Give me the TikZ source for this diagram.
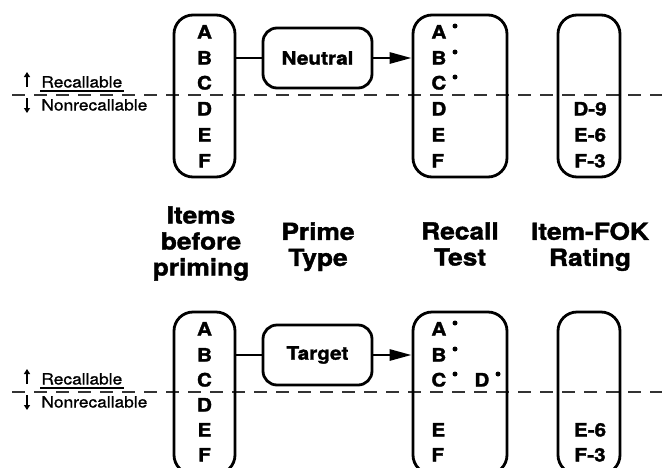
\documentclass[tikz,border=0pt]{standalone}
\usepackage{fontspec}
\setmainfont{TeX Gyre Heros}[FakeStretch=1.12, BoldFeatures={FakeBold=1.6}]
\newfontfamily\smallfont{TeX Gyre Heros}[FakeStretch=1.12, FakeBold=1.0]
\usetikzlibrary{arrows.meta}
\begin{document}
\begin{tikzpicture}[x=1pt,y=-1pt, line width=2.8pt,
 box/.style={draw, rounded corners=19pt, inner sep=0pt, minimum height=162pt},
 lett/.style={font=\fontsize{18.5}{18.5}\selectfont\bfseries, inner sep=0pt, text height=13pt, text depth=0pt},
 primebox/.style={draw, rounded corners=14pt, minimum width=109pt, minimum height=60pt, inner sep=0pt, font=\fontsize{18.5}{18.5}\selectfont\bfseries},
 lab/.style={font=\fontsize{23.5}{26}\selectfont\bfseries, align=center, inner sep=0pt, anchor=north},
 rdot/.style={circle, fill, inner sep=0pt, minimum size=5pt},
 dline/.style={dash pattern=on 13pt off 9pt, line width=2.4pt, draw=black!80},
 small/.style={font=\fontsize{15.5}{15.5}\smallfont, inner sep=0pt, anchor=west, text height=11pt, text depth=0pt},
 conn/.style={line width=2.8pt},
 arr/.style={line width=2.8pt, -{Triangle[length=22pt,width=11pt]}},
 sarr/.style={line width=1.6pt, -{Triangle[length=5pt,width=6pt]}}]
\useasboundingbox (0,0) rectangle (662,467);
\clip (0,0) rectangle (662,467);

% ---------- top panel ----------
\coordinate (dlA) at (12,95);
\coordinate (drA) at (662,95);
\draw[dline] (dlA) -- (drA);

\node[small] (recA) at (40,82) {Recallable};
\draw[line width=1.3pt] ([yshift=-2pt]recA.south west) -- ([yshift=-2pt]recA.south east);
\node[small] (nonA) at (40,105) {Nonrecallable};
\coordinate (uaA1) at (27,87); \coordinate (uaA2) at (27,72);
\coordinate (daA1) at (27,98); \coordinate (daA2) at (27,113);
\draw[sarr] (uaA1) -- (uaA2);
\draw[sarr] (daA1) -- (daA2);

\node[box, minimum width=61pt] (itemsA) at (204.5,96) {};
\node[lett] (iAa) at (204.5,32) {A};
\node[lett] (iAb) at (204.5,58) {B};
\node[lett] (iAc) at (204.5,83) {C};
\node[lett] (iAd) at (204.5,109) {D};
\node[lett] (iAe) at (204.5,135) {E};
\node[lett] (iAf) at (204.5,161) {F};

\node[primebox] (neutral) at (317.5,58) {Neutral};

\node[box, minimum width=94pt] (recallA) at (460,96) {};
\node[lett, anchor=west] (rAa) at (430,32) {A};
\node[lett, anchor=west] (rAb) at (430,58) {B};
\node[lett, anchor=west] (rAc) at (430,83) {C};
\node[lett, anchor=west] (rAd) at (430,109) {D};
\node[lett, anchor=west] (rAe) at (430,135) {E};
\node[lett, anchor=west] (rAf) at (430,161) {F};
\node[rdot] (dAa) at (455,26) {};
\node[rdot] (dAb) at (455,52) {};
\node[rdot] (dAc) at (455,77) {};

\node[box, minimum width=62pt] (fokA) at (589,96) {};
\node[lett] (fAd) at (590,109) {D-9};
\node[lett] (fAe) at (590,135) {E-6};
\node[lett] (fAf) at (590,161) {F-3};

\draw[conn] (itemsA.east |- neutral.west) -- (neutral.west);
\draw[arr] (neutral.east) -- (neutral.east -| recallA.west);

% ---------- labels ----------
\node[lab] (l1) at (201,205) {Items\\before\\priming};
\node[lab] (l2) at (318,221) {Prime\\Type};
\node[lab] (l3) at (460,221) {Recall\\Test};
\node[lab] (l4) at (590,221) {Item-FOK\\Rating};

% ---------- bottom panel ----------
\coordinate (dlB) at (12,392);
\coordinate (drB) at (662,392);
\draw[dline] (dlB) -- (drB);

\node[small] (recB) at (40,379) {Recallable};
\draw[line width=1.3pt] ([yshift=-2pt]recB.south west) -- ([yshift=-2pt]recB.south east);
\node[small] (nonB) at (40,402) {Nonrecallable};
\coordinate (uaB1) at (27,384); \coordinate (uaB2) at (27,369);
\coordinate (daB1) at (27,395); \coordinate (daB2) at (27,410);
\draw[sarr] (uaB1) -- (uaB2);
\draw[sarr] (daB1) -- (daB2);

\node[box, minimum width=61pt] (itemsB) at (204.5,393) {};
\node[lett] (iBa) at (204.5,329) {A};
\node[lett] (iBb) at (204.5,355) {B};
\node[lett] (iBc) at (204.5,380) {C};
\node[lett] (iBd) at (204.5,405) {D};
\node[lett] (iBe) at (204.5,430) {E};
\node[lett] (iBf) at (204.5,455) {F};

\node[primebox] (target) at (317.5,355) {Target};

\node[box, minimum width=94pt] (recallB) at (460,393) {};
\node[lett, anchor=west] (rBa) at (430,329) {A};
\node[lett, anchor=west] (rBb) at (430,355) {B};
\node[lett, anchor=west] (rBc) at (430,380) {C};
\node[lett, anchor=west] (rBd) at (473,380) {D};
\node[lett, anchor=west] (rBe) at (430,430) {E};
\node[lett, anchor=west] (rBf) at (430,455) {F};
\node[rdot] (dBa) at (455,323) {};
\node[rdot] (dBb) at (455,349) {};
\node[rdot] (dBc) at (455,374) {};
\node[rdot] (dBd) at (498,374) {};

\node[box, minimum width=62pt] (fokB) at (589,393) {};
\node[lett] (fBe) at (590,430) {E-6};
\node[lett] (fBf) at (590,455) {F-3};

\draw[conn] (itemsB.east |- target.west) -- (target.west);
\draw[arr] (target.east) -- (target.east -| recallB.west);
\end{tikzpicture}
\end{document}
